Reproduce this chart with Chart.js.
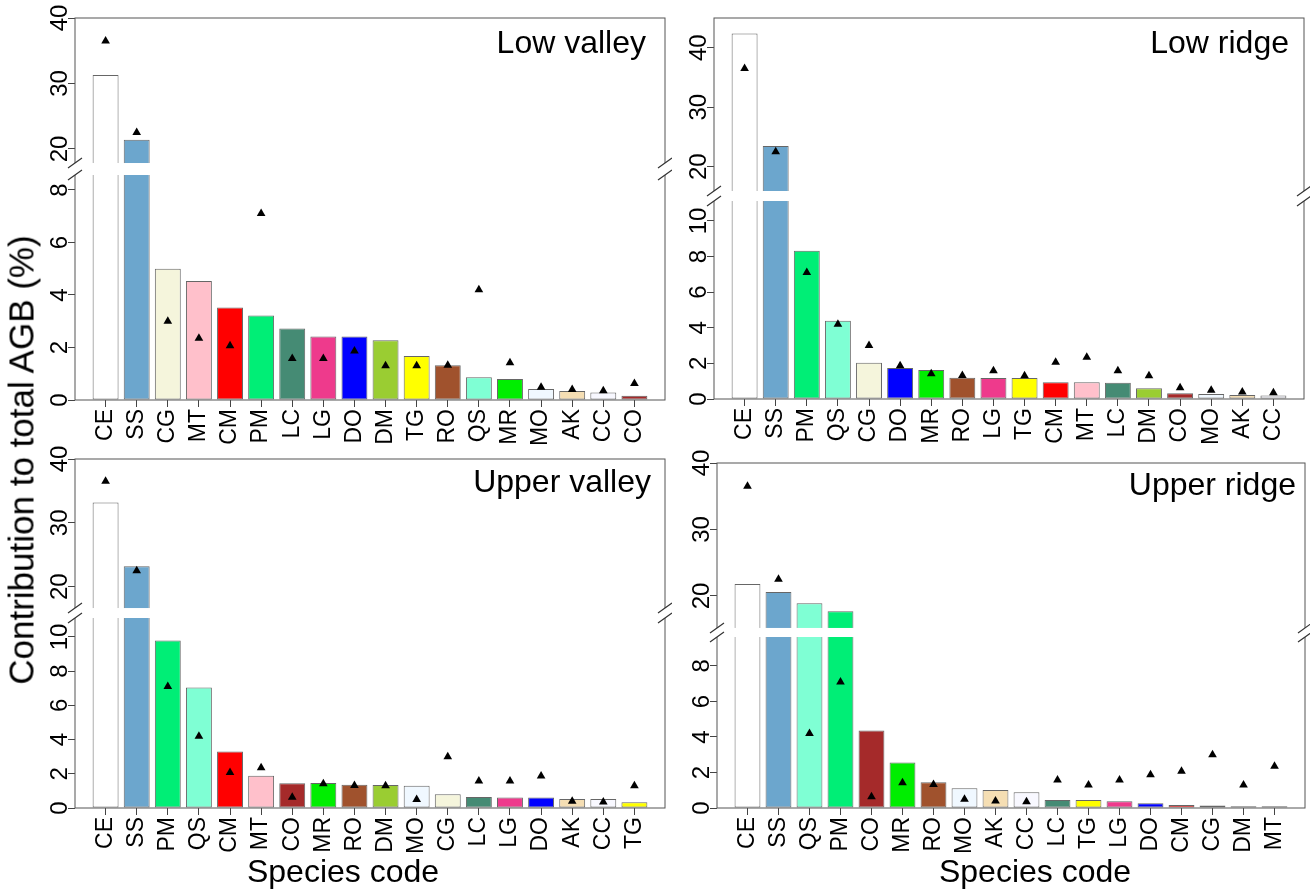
<!DOCTYPE html>
<html>
<head>
<meta charset="utf-8">
<script src="https://cdn.jsdelivr.net/npm/chart.js"></script>
<style>
  body { margin: 0; width: 1310px; height: 894px; position: relative; overflow: hidden; background: #fff;
         font-family: "Liberation Sans", Arial, sans-serif; }
  canvas { position: absolute; }
  .lab { position: absolute; white-space: nowrap; line-height: 1; color: #000;
         transform: translate(-50%, -50%); }
  #ytitle { font-size: 35px; transform: translate(-50%, -50%) rotate(-90deg); }
  .xtitle { font-size: 32px; }
</style>
</head>
<body>
<canvas id="lowValley" width="672" height="452" style="left:0;top:0"></canvas>
<canvas id="lowRidge" width="670" height="452" style="left:640px;top:0"></canvas>
<canvas id="upperValley" width="672" height="454" style="left:0;top:440px"></canvas>
<canvas id="upperRidge" width="670" height="454" style="left:640px;top:440px"></canvas>
<div class="lab" id="ytitle" style="left:21px;top:460px">Contribution to total AGB (%)</div>
<div class="lab xtitle" style="left:343px;top:871px">Species code</div>
<div class="lab xtitle" style="left:1035px;top:871px">Species code</div>
<script>
// triangles: the same value per species in every panel
const meanSpecies = ['CE', 'SS', 'PM', 'QS', 'CG', 'MT', 'CM', 'DO', 'LC',
  'LG', 'MR', 'RO', 'DM', 'TG', 'CO', 'MO', 'AK', 'CC'];
const meanAGB = [36.5, 22.5, 7.1, 4.2, 3.0, 2.35, 2.07, 1.87, 1.58,
  1.58, 1.42, 1.32, 1.3, 1.3, 0.63, 0.49, 0.4, 0.35];

const lowValleySpecies = ['CE', 'SS', 'CG', 'MT', 'CM', 'PM', 'LC', 'LG', 'DO',
  'DM', 'TG', 'RO', 'QS', 'MR', 'MO', 'AK', 'CC', 'CO'];
const lowValleyAGB = [31.3, 21.4, 5.0, 4.53, 3.52, 3.22, 2.72, 2.42, 2.42,
  2.28, 1.68, 1.32, 0.87, 0.8, 0.42, 0.34, 0.29, 0.16];

const lowRidgeSpecies = ['CE', 'SS', 'PM', 'QS', 'CG', 'DO', 'MR', 'RO', 'LG',
  'TG', 'CM', 'MT', 'LC', 'DM', 'CO', 'MO', 'AK', 'CC'];
const lowRidgeAGB = [42.4, 23.5, 8.33, 4.4, 2.04, 1.74, 1.63, 1.2, 1.18,
  1.18, 0.94, 0.94, 0.91, 0.6, 0.32, 0.28, 0.23, 0.19];

const upperValleySpecies = ['CE', 'SS', 'PM', 'QS', 'CM', 'MT', 'CO', 'MR', 'RO',
  'DM', 'MO', 'CG', 'LC', 'LG', 'DO', 'AK', 'CC', 'TG'];
const upperValleyAGB = [33.2, 23.2, 9.8, 7.05, 3.31, 1.89, 1.44, 1.46, 1.36,
  1.35, 1.3, 0.8, 0.65, 0.61, 0.61, 0.53, 0.53, 0.33];

const upperRidgeSpecies = ['CE', 'SS', 'QS', 'PM', 'CO', 'MR', 'RO', 'MO', 'AK',
  'CC', 'LC', 'TG', 'LG', 'DO', 'CM', 'CG', 'DM', 'MT'];
const upperRidgeAGB = [21.8, 20.6, 18.9, 17.7, 4.37, 2.56, 1.45, 1.11, 1.02,
  0.89, 0.45, 0.45, 0.38, 0.27, 0.17, 0.14, 0.1, 0.1];

const upperTicks = [20, 30, 40];
const lowValleyTicks = [0, 2, 4, 6, 8];
const lowRidgeTicks = [0, 2, 4, 6, 8, 10];
const upperValleyTicks = [0, 2, 4, 6, 8, 10];
const upperRidgeTicks = [0, 2, 4, 6, 8];

const speciesColours = {
  CE: '#ffffff', SS: '#6ca6cd', CG: '#f5f5dc', MT: '#ffc0cb', CM: '#ff0000',
  PM: '#00ee76', LC: '#458b74', LG: '#ee3a8c', DO: '#0000ff', DM: '#9acd32',
  TG: '#ffff00', RO: '#a0522d', QS: '#7fffd4', MR: '#00ee00', MO: '#f0f8ff',
  AK: '#f5deb3', CC: '#f8f8ff', CO: '#a52a2a',
};

const FONT = '"Liberation Sans", Arial, sans-serif';

// layout in page pixels: canvas frame, plot box, where the two y segments meet
const panels = [
  {id: 'lowValley', title: 'Low valley', species: lowValleySpecies, values: lowValleyAGB,
    lowerTicks: lowValleyTicks, frame: [0, 0], area: [75, 18, 665, 400], split: 175,
    upper: [16.03, 40], cut: 17.86, lowerMax: 8.57, titleAt: [646, 53]},
  {id: 'lowRidge', title: 'Low ridge', species: lowRidgeSpecies, values: lowRidgeAGB,
    lowerTicks: lowRidgeTicks, frame: [640, 0], area: [714, 18, 1304, 399], split: 201,
    upper: [14.24, 45], cut: 15.92, lowerMax: 11.12, titleAt: [1289, 53]},
  {id: 'upperValley', title: 'Upper valley', species: upperValleySpecies, values: upperValleyAGB,
    lowerTicks: upperValleyTicks, frame: [0, 440], area: [75, 459, 665, 808], split: 618,
    upper: [15.1, 40], cut: 16.66, lowerMax: 11.11, titleAt: [651, 492]},
  {id: 'upperRidge', title: 'Upper ridge', species: upperRidgeSpecies, values: upperRidgeAGB,
    lowerTicks: upperRidgeTicks, frame: [640, 440], area: [717, 463, 1305, 808], split: 637,
    upper: [13.83, 40], cut: 15.19, lowerMax: 9.63, titleAt: [1296, 495]},
];

// R barplot midpoints: bar width 1, space 0.2
const barX = (i) => 0.7 + 1.2 * i;

function brokenFrame(p) {
  return {
    id: 'brokenFrame',
    afterDraw(chart) {
      const {ctx, chartArea: a} = chart;
      const up = chart.scales.yUp;
      const low = chart.scales.yLow;
      const cutTop = up.getPixelForValue(p.cut);
      const cutBottom = low.top;
      ctx.save();
      ctx.strokeStyle = '#555';
      ctx.lineWidth = 1;
      ctx.strokeRect(a.left, a.top, a.right - a.left, a.bottom - a.top);
      ctx.fillStyle = '#fff';
      ctx.fillRect(a.left - 2, cutTop, a.right - a.left + 4, cutBottom - cutTop);
      ctx.strokeStyle = '#333';
      ctx.lineWidth = 1.2;
      ctx.beginPath();
      for (const x of [a.left, a.right]) {
        for (const y of [cutTop, cutBottom]) {
          ctx.moveTo(x - 7, y + 5);
          ctx.lineTo(x + 7, y - 5);
        }
      }
      ctx.stroke();
      // y tick labels, parallel to the axis
      ctx.fillStyle = '#000';
      ctx.font = '24px ' + FONT;
      ctx.textAlign = 'center';
      ctx.textBaseline = 'alphabetic';
      for (const s of [up, low]) {
        for (const t of s.ticks) {
          ctx.save();
          ctx.translate(a.left - 8, s.getPixelForValue(t.value));
          ctx.rotate(-Math.PI / 2);
          ctx.fillText(String(t.value), 0, 0);
          ctx.restore();
        }
      }
      ctx.font = '32px ' + FONT;
      ctx.textAlign = 'right';
      ctx.fillText(p.title, p.titleAt[0] - p.frame[0], p.titleAt[1] - p.frame[1]);
      ctx.restore();
    },
  };
}

function drawPanel(p) {
  const canvas = document.getElementById(p.id);
  const left = p.area[0] - p.frame[0];
  const top = p.area[1] - p.frame[1];
  const right = p.area[2] - p.frame[0];
  const bottom = p.area[3] - p.frame[1];

  const bars = p.values.map((v, i) => ({x: barX(i), y: v}));
  const means = p.species.map((s, i) => ({x: barX(i), y: meanAGB[meanSpecies.indexOf(s)]}));
  const colours = p.species.map((s) => speciesColours[s]);

  const barSet = (axis) => ({
    type: 'bar', data: bars, yAxisID: axis, order: 1,
    backgroundColor: colours, borderColor: '#666', borderWidth: 1, borderSkipped: false,
    grouped: false, barPercentage: 1 / 1.2, categoryPercentage: 1, clip: 0,
  });
  const meanSet = (axis) => ({
    type: 'line', data: means, yAxisID: axis, order: 0, showLine: false,
    pointStyle: 'triangle', pointRadius: 5, pointBorderWidth: 0,
    pointBackgroundColor: '#000', clip: 0,
  });
  const yTicks = (list) => (s) => {
    s.ticks = list.map((v) => ({value: v}));
  };
  const tickGrid = {display: true, drawOnChartArea: false, drawTicks: true, tickLength: 7, color: '#444'};

  new Chart(canvas, {
    type: 'bar',
    data: {datasets: [meanSet('yUp'), meanSet('yLow'), barSet('yUp'), barSet('yLow')]},
    options: {
      responsive: false,
      animation: false,
      devicePixelRatio: 1,
      events: [],
      layout: {padding: {left: 0, top: top, right: canvas.width - right, bottom: 0}},
      plugins: {legend: {display: false}, tooltip: {enabled: false}},
      scales: {
        x: {
          type: 'linear', min: -0.48, max: 22.28, offset: false,
          grid: {...tickGrid, offset: false}, border: {display: false},
          afterBuildTicks: (s) => {
            s.ticks = p.species.map((_, i) => ({value: barX(i)}));
          },
          afterFit: (s) => {
            s.height = canvas.height - bottom;
          },
          ticks: {
            autoSkip: false, minRotation: 90, maxRotation: 90, padding: 2, color: '#000',
            font: {family: FONT, size: 23},
            callback: (v, i) => p.species[i],
          },
        },
        yUp: {
          type: 'linear', position: 'left', stack: 'agb', weight: 1,
          stackWeight: p.split - p.area[1], min: p.upper[0], max: p.upper[1],
          grid: tickGrid, border: {display: false}, ticks: {display: false},
          afterBuildTicks: yTicks(upperTicks),
          afterFit: (s) => {
            s.width = left;
          },
        },
        yLow: {
          type: 'linear', position: 'left', stack: 'agb', weight: 0,
          stackWeight: p.area[3] - p.split, min: 0, max: p.lowerMax,
          grid: tickGrid, border: {display: false}, ticks: {display: false},
          afterBuildTicks: yTicks(p.lowerTicks),
          afterFit: (s) => {
            s.width = left;
          },
        },
      },
    },
    plugins: [brokenFrame(p)],
  });
}

panels.forEach(drawPanel);
</script>
</body>
</html>
